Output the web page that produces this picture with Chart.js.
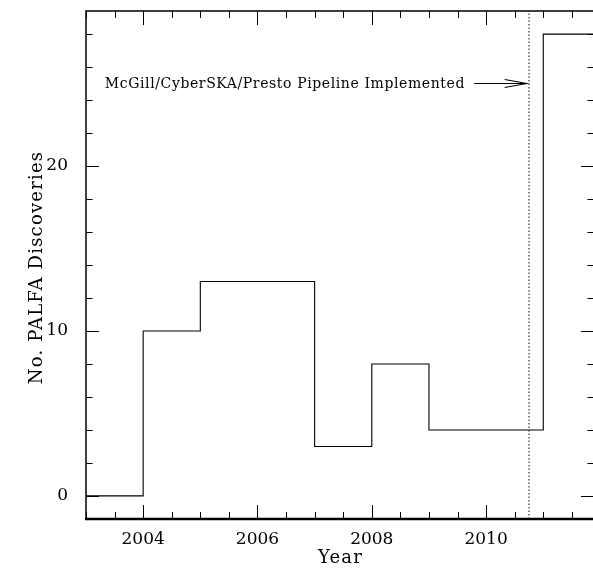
<!DOCTYPE html>
<html><head><meta charset="utf-8">
<script src="https://cdn.jsdelivr.net/npm/chart.js@4/dist/chart.umd.min.js"></script>
<style>html,body{margin:0;padding:0;background:#fff;}</style>
</head><body>
<canvas id="c" width="593" height="568"></canvas>
<script>
// ---- data ----
const binStarts   = [2003, 2004, 2005, 2007, 2008, 2009, 2011];
const binEnds     = [2004, 2005, 2007, 2008, 2009, 2011, 2012];
const discoveries = [0, 10, 13, 3, 8, 4, 28];
const xTickLabels = [2004, 2006, 2008, 2010];
const yTickLabels = [0, 10, 20];
const xRange = [2003, 2011.87];
const yRange = [-1.4, 29.4];
const pipelineYear = [2010.75];
const annotationText = ['McGill/CyberSKA/Presto Pipeline Implemented'];
const annotationTextEnd = [2009.63];
const arrowFrom = [2009.79];
const arrowTo = [2010.71];
const arrowLevel = [25];
const xTitle = 'Year';
const yTitle = 'No. PALFA Discoveries';

const FONT = "'DejaVu Serif', serif";

// histogram outline points built from bins
const stepPts = [];
binStarts.forEach((s, i) => {
  stepPts.push({x: s, y: discoveries[i]});
  stepPts.push({x: binEnds[i], y: discoveries[i]});
});
const markerPts = [{x: pipelineYear[0], y: yRange[0]}, {x: pipelineYear[0], y: yRange[1]}];

const framePlugin = {
  id: 'frame',
  afterDraw(chart) {
    const ctx = chart.ctx, a = chart.chartArea;
    const xs = chart.scales.x, ys = chart.scales.y;
    ctx.save();
    ctx.strokeStyle = '#000';
    ctx.lineCap = 'butt';
    // frame
    ctx.lineWidth = 1.5;
    ctx.beginPath();
    ctx.moveTo(a.left, a.bottom); ctx.lineTo(a.left, a.top); ctx.lineTo(a.right + 1, a.top);
    ctx.lineTo(a.right + 1, a.bottom);
    ctx.stroke();
    ctx.lineWidth = 2.5;
    ctx.beginPath(); ctx.moveTo(a.left - 1, a.bottom); ctx.lineTo(a.right + 2, a.bottom); ctx.stroke();
    // inward ticks
    ctx.lineWidth = 1;
    ctx.beginPath();
    for (let v = 2003; v <= xRange[1]; v += 0.5) {
      const px = Math.round(xs.getPixelForValue(v)) + 0.5;
      const L = (v % 2 === 0) ? 14 : 7;
      ctx.moveTo(px, a.bottom); ctx.lineTo(px, a.bottom - L);
      ctx.moveTo(px, a.top); ctx.lineTo(px, a.top + L);
    }
    for (let v = 0; v <= yRange[1]; v += 2) {
      const py = Math.round(ys.getPixelForValue(v)) + 0.5;
      const L = (v % 10 === 0) ? 13 : 6.5;
      ctx.moveTo(a.left, py); ctx.lineTo(a.left + L, py);
      ctx.moveTo(a.right + 1, py); ctx.lineTo(a.right + 1 - L, py);
    }
    ctx.stroke();
    // annotation arrow
    const y0 = ys.getPixelForValue(arrowLevel[0]);
    const x0 = xs.getPixelForValue(arrowFrom[0]);
    const x1 = xs.getPixelForValue(arrowTo[0]);
    ctx.lineWidth = 1.1;
    ctx.beginPath();
    ctx.moveTo(x0, y0); ctx.lineTo(x1, y0);
    ctx.moveTo(x1 - 22, y0 - 4); ctx.lineTo(x1, y0); ctx.lineTo(x1 - 22, y0 + 4);
    ctx.stroke();
    // annotation text
    ctx.fillStyle = '#000';
    ctx.font = '14px ' + FONT;
    ctx.letterSpacing = '0.6px';
    ctx.textAlign = 'right';
    ctx.textBaseline = 'middle';
    ctx.fillText(annotationText[0], xs.getPixelForValue(annotationTextEnd[0]), y0 + 1);
    // axis titles
    ctx.font = '18px ' + FONT;
    ctx.letterSpacing = '1.2px';
    ctx.textAlign = 'center';
    ctx.textBaseline = 'middle';
    ctx.fillText(xTitle, 340.5, 558);
    ctx.translate(37, (a.top + a.bottom) / 2 + 3);
    ctx.rotate(-Math.PI / 2);
    ctx.font = '18px ' + FONT;
    ctx.letterSpacing = '1.2px';
    ctx.fillText(yTitle, 0.5, 0);
    ctx.restore();
  }
};

new Chart(document.getElementById('c'), {
  type: 'line',
  data: {
    datasets: [
      {data: stepPts, borderColor: '#000', borderWidth: 1.1, pointRadius: 0, fill: false, tension: 0},
      {data: markerPts, borderColor: '#555', borderWidth: 1.4, borderDash: [1.5, 2], pointRadius: 0, fill: false}
    ]
  },
  options: {
    responsive: false,
    animation: false,
    devicePixelRatio: 1,
    layout: {padding: {top: 0, right: 0, left: 0, bottom: 0}},
    plugins: {legend: {display: false}, tooltip: {enabled: false}},
    scales: {
      x: {
        type: 'linear', position: 'bottom', min: xRange[0], max: xRange[1],
        grid: {display: false}, border: {display: false},
        afterBuildTicks: s => { s.ticks = xTickLabels.map(v => ({value: v})); },
        afterFit: s => { s.height = 49; },
        ticks: {color: '#000', padding: 2, maxRotation: 0, font: {family: FONT, size: 17}, callback: v => String(v)}
      },
      y: {
        type: 'linear', min: yRange[0], max: yRange[1],
        grid: {display: false}, border: {display: false},
        afterBuildTicks: s => { s.ticks = yTickLabels.map(v => ({value: v})); },
        afterFit: s => { s.width = 86; s.paddingTop = 11; s.paddingBottom = 0; },
        ticks: {color: '#000', padding: 10, font: {family: FONT, size: 17}, callback: v => String(v)}
      }
    }
  },
  plugins: [framePlugin]
});
</script>
</body></html>
